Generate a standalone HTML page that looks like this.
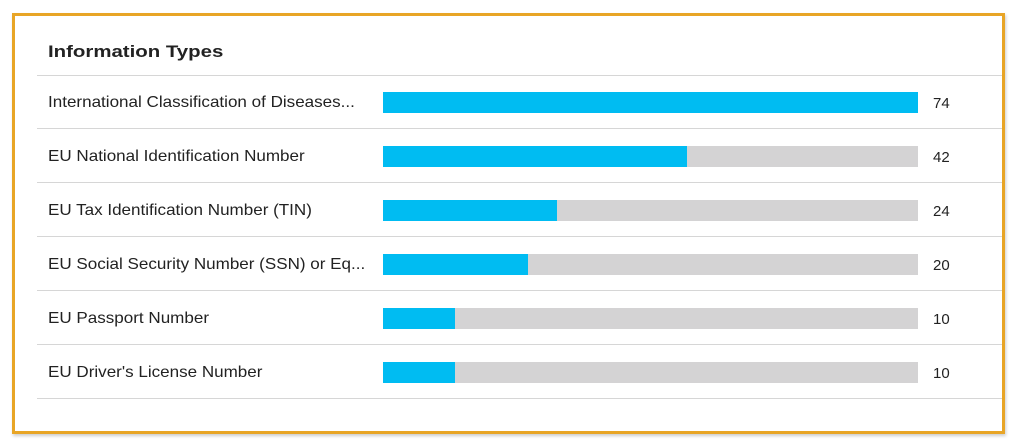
<!DOCTYPE html>
<html><head><meta charset="utf-8"><style>
body{margin:0;width:1012px;height:444px;background:#fff;overflow:hidden;font-family:"Liberation Sans",sans-serif;}
#frame{position:absolute;left:12px;top:13px;width:987px;height:415px;border:3px solid #e8a526;box-shadow:1px 2px 3px rgba(0,0,0,.2);}
#title{position:absolute;left:48px;top:42px;font-size:17px;font-weight:bold;color:#222;white-space:nowrap;transform:scaleX(1.2);transform-origin:left;}
.line{position:absolute;left:37px;width:965px;height:1px;background:#d6d6d6;}
.lbl{position:absolute;left:48px;font-size:16px;color:#222;white-space:nowrap;transform:scaleX(1.065);transform-origin:left;}
.track{position:absolute;left:383px;width:535px;height:21px;background:#d4d3d4;}
.fill{position:absolute;left:0;top:0;height:100%;background:#00bcf2;}
.val{position:absolute;left:933px;font-size:15px;color:#222;}
</style></head><body>
<div id="frame"></div>
<div id="title">Information Types</div>
<div id="chart"></div>
<script>
const categories=["International Classification of Diseases...","EU National Identification Number","EU Tax Identification Number (TIN)","EU Social Security Number (SSN) or Eq...","EU Passport Number","EU Driver's License Number"];
const values=[74,42,24,20,10,10];
const chart=document.getElementById('chart');
const maxV=Math.max(...values);
function add(cls,top){const d=document.createElement('div');d.className=cls;d.style.top=top+'px';chart.appendChild(d);return d;}
const l0=add('line',75);


categories.forEach((c,i)=>{
  const cy=102+i*54;
  const lb=add('lbl',cy-8);lb.textContent=c;
  
  
  const tr=add('track',cy-10);
  
  
  const f=document.createElement('div');f.className='fill';f.style.width=(values[i]/maxV*100)+'%';tr.appendChild(f);
  
  
  const v=add('val',cy-7);v.textContent=values[i];
  
  
  const ln=add('line',cy+26);
  
  
});
</script>
</body></html>
